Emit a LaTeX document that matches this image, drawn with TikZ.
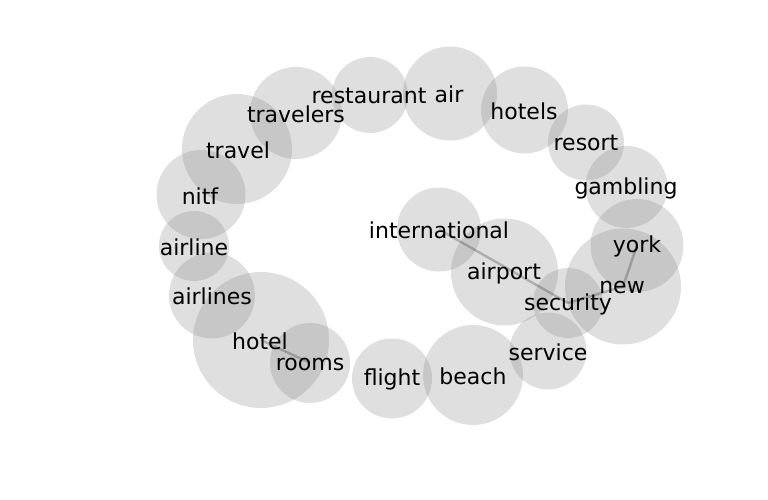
\documentclass[tikz,border=0pt]{standalone}
\usepackage{fontspec}
\setmainfont{DejaVu Sans}
\begin{document}
\begin{tikzpicture}[x=1pt,y=-1pt,
  bubble/.style={circle,inner sep=0pt,fill=gray,fill opacity=0.25,draw=none},
  word/.style={inner sep=0pt,font=\fontsize{22}{26}\selectfont,text=black},
  link/.style={draw=black,draw opacity=0.22,line width=2.4pt}]
\useasboundingbox (0,0) rectangle (768,500);
% circles
\node[bubble,minimum size=92pt] (travelers) at (296,113) {};
\node[bubble,minimum size=76pt] (restaurant) at (370,95) {};
\node[bubble,minimum size=94pt] (air) at (450,93.5) {};
\node[bubble,minimum size=110pt] (travel) at (237,149) {};
\node[bubble,minimum size=89pt] (nitf) at (201,194.5) {};
\node[bubble,minimum size=87pt] (hotels) at (524.5,110) {};
\node[bubble,minimum size=76pt] (resort) at (586,142.5) {};
\node[bubble,minimum size=82pt] (gambling) at (626.5,187) {};
\node[bubble,minimum size=93pt] (york) at (637,245.5) {};
\node[bubble,minimum size=116pt] (new) at (623,286.5) {};
\node[bubble,minimum size=70pt] (security) at (568,303) {};
\node[bubble,minimum size=77pt] (service) at (548,351) {};
\node[bubble,minimum size=107pt] (airport) at (504.5,272) {};
\node[bubble,minimum size=84pt] (international) at (439,229.5) {};
\node[bubble,minimum size=100pt] (beach) at (473,375) {};
\node[bubble,minimum size=80pt] (flight) at (392,378.5) {};
\node[bubble,minimum size=70pt] (airline) at (194,246) {};
\node[bubble,minimum size=86pt] (airlines) at (212,295.5) {};
\node[bubble,minimum size=136pt] (hotel) at (261,340) {};
\node[bubble,minimum size=80pt] (rooms) at (310,363) {};
% links
\draw[link] (international.center) -- (security.center);
\draw[link] (york.center) -- (new.center);
\draw[link] (new.center) -- (security.center);
\draw[link] (hotel.center) -- (rooms.center);
% words
\node[word] (t-travelers) at (296,114) {travelers};
\node[word] (t-restaurant) at (369,96) {restaurant};
\node[word] (t-air) at (449,94) {air};
\node[word] (t-travel) at (238,150) {travel};
\node[word] (t-nitf) at (200,196) {nitf};
\node[word] (t-hotels) at (524,111) {hotels};
\node[word] (t-resort) at (586,143) {resort};
\node[word] (t-gambling) at (626,188) {gambling};
\node[word] (t-york) at (637,246) {york};
\node[word] (t-new) at (622,287) {new};
\node[word] (t-security) at (568,304) {security};
\node[word] (t-service) at (548,352) {service};
\node[word] (t-airport) at (504,273) {airport};
\node[word] (t-international) at (439,230) {international};
\node[word] (t-beach) at (473,376) {beach};
\node[word] (t-flight) at (392,379) {flight};
\node[word] (t-airline) at (194,247) {airline};
\node[word] (t-airlines) at (212,296) {airlines};
\node[word] (t-hotel) at (260,341) {hotel};
\node[word] (t-rooms) at (310,364) {rooms};
\end{tikzpicture}
\end{document}
